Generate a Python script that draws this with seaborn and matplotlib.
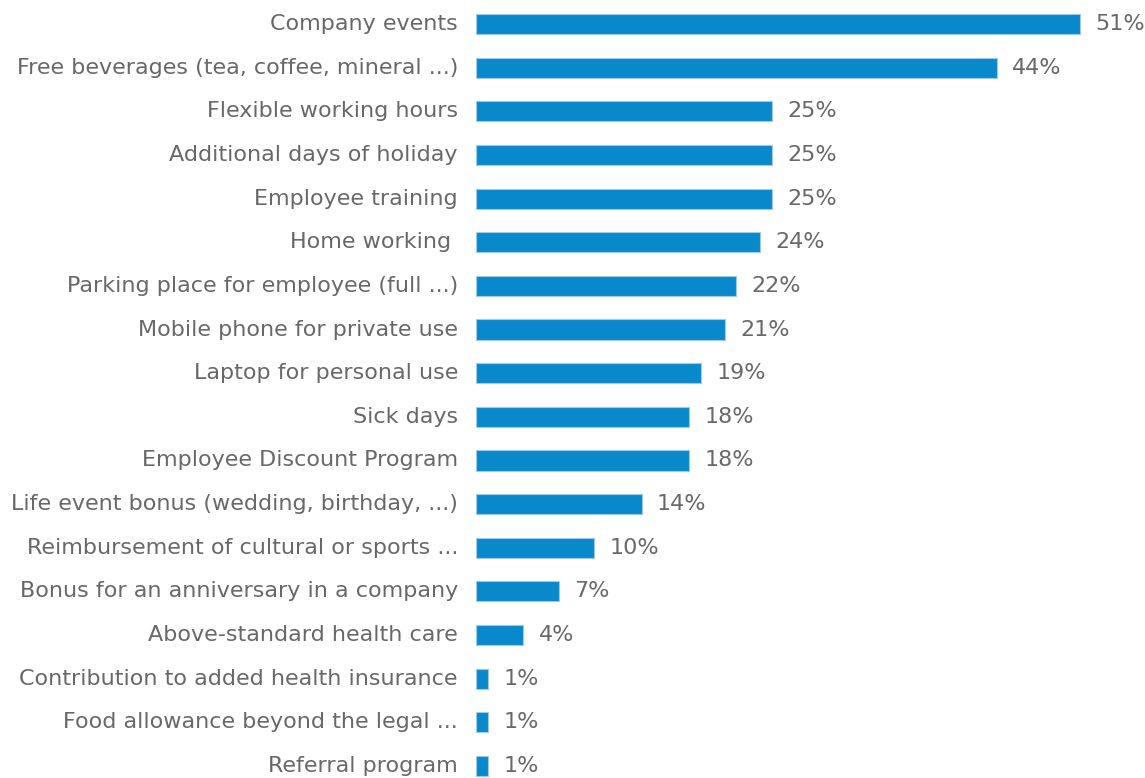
import matplotlib
matplotlib.use("Agg")
import matplotlib.pyplot as plt
import seaborn as sns
import pandas as pd

categories = [
    "Company events",
    "Free beverages (tea, coffee, mineral ...)",
    "Flexible working hours",
    "Additional days of holiday",
    "Employee training",
    "Home working ",
    "Parking place for employee (full ...)",
    "Mobile phone for private use",
    "Laptop for personal use",
    "Sick days",
    "Employee Discount Program",
    "Life event bonus (wedding, birthday, ...)",
    "Reimbursement of cultural or sports ...",
    "Bonus for an anniversary in a company",
    "Above-standard health care",
    "Contribution to added health insurance",
    "Food allowance beyond the legal ...",
    "Referral program",
]
values = [51, 44, 25, 25, 25, 24, 22, 21, 19, 18, 18, 14, 10, 7, 4, 1, 1, 1]

df = pd.DataFrame({"benefit": categories, "share": values})

sns.set_theme(style="white")
plt.rcParams["font.family"] = ["DejaVu Sans"]

fig = plt.figure(figsize=(11.45, 7.78), dpi=100)
ax = fig.add_axes([476 / 1145, 0, 1 - 476 / 1145, 1])

sns.barplot(data=df, x="share", y="benefit", orient="h", color="#0a88cc",
            saturation=1, width=0.46, edgecolor="#9ccbe9", linewidth=0.8, ax=ax)

ax.set_xlim(0, 56.5)
ax.set_ylim(17.275, -0.55)
for c in ax.containers:
    texts = ax.bar_label(c, labels=[f"{v}%" for v in values], padding=11,
                         fontsize=16, color="#686868")
    for t in texts:
        t.set_va("center")

ax.set_xlabel("")
ax.set_ylabel("")
ax.set_xticks([])
ax.tick_params(axis="y", length=0, pad=13, labelsize=16, labelcolor="#686868")
for lbl in ax.get_yticklabels():
    lbl.set_va("center")
for s in ax.spines.values():
    s.set_visible(False)

fig.savefig("out.png", dpi=100)
